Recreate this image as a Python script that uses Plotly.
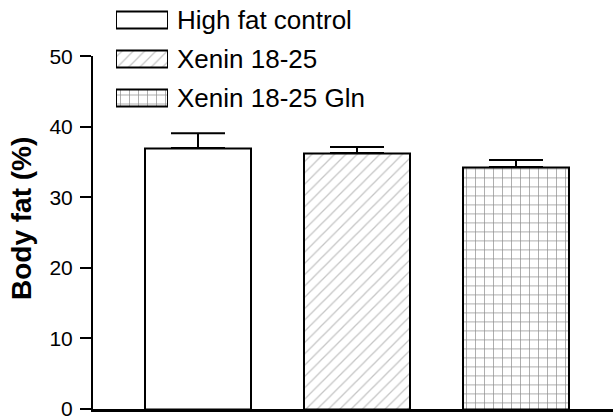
import plotly.graph_objects as go

groups = ["High fat control", "Xenin 18-25", "Xenin 18-25 Gln"]
body_fat = [37.0, 36.3, 34.3]
sem = [2.1, 0.85, 1.0]
y_ticks = [0, 10, 20, 30, 40, 50]
y_title = "Body fat (%)"

shapes = ["", "/", "+"]
fg = ["black", "#8c8c8c", "#1a1a1a"]
sizes = [8, 8, 9]
sol = [0.1, 0.16, 0.15]

FONT = "Liberation Sans, Arial, sans-serif"
W, H = 613, 419
T, B = 0, 10
PH = H - T - B

xi = list(range(len(groups)))

fig = go.Figure()
fig.add_trace(go.Bar(
    x=xi, y=body_fat, width=0.667,
    marker=dict(color="white", line=dict(color="black", width=2),
                pattern=dict(shape=shapes, fgcolor=fg, bgcolor="white",
                             size=sizes, solidity=sol, fillmode="overlay")),
    error_y=dict(type="data", symmetric=False, array=sem,
                 arrayminus=[0] * len(sem), color="black", thickness=2, width=27),
    showlegend=False, xaxis="x", yaxis="y",
))

# legend boxes drawn via a small secondary axis pair
fig.add_trace(go.Bar(
    y=xi, x=[1] * len(groups), base=0, orientation="h", width=0.46,
    marker=dict(color="white", line=dict(color="black", width=2),
                pattern=dict(shape=shapes, fgcolor=fg, bgcolor="white",
                             size=sizes, solidity=sol, fillmode="overlay")),
    showlegend=False, xaxis="x2", yaxis="y2", hoverinfo="skip",
))

annotations = []
for i, g in enumerate(groups):
    annotations.append(dict(x=175 / W, y=i, xref="paper", yref="y2", text=g,
                            showarrow=False, xanchor="left", yanchor="middle",
                            font=dict(family=FONT, size=26, color="black")))
annotations.append(dict(x=21 / W, y=(PH - 219) / PH, xref="paper", yref="paper",
                        text="<b>" + y_title + "</b>", textangle=-90, showarrow=False,
                        xanchor="center", yanchor="middle",
                        font=dict(family=FONT, size=28, color="black")))

fig.update_layout(
    width=W, height=H,
    margin=dict(l=0, r=0, t=T, b=B),
    paper_bgcolor="white", plot_bgcolor="rgba(0,0,0,0)",
    showlegend=False,
    bargap=0,
    xaxis=dict(domain=[93 / W, 1], range=[-0.6604, 2.610], showline=True,
               linecolor="black", linewidth=2.5, showticklabels=False, ticks="",
               showgrid=False, zeroline=False, fixedrange=True),
    yaxis=dict(domain=[0, (PH - 56.4) / PH], range=[0, 50], tickvals=y_ticks,
               ticks="outside", ticklen=11, tickwidth=2, tickcolor="black",
               showline=True, linecolor="black", linewidth=2, showgrid=False,
               zeroline=False, tickfont=dict(family=FONT, size=21, color="black"),
               ticklabelstandoff=3, automargin=False, ticklabeloverflow="allow"),
    xaxis2=dict(domain=[116 / W, 168 / W], range=[0, 1], visible=False,
                anchor="y2"),
    yaxis2=dict(domain=[(PH - 117.5) / PH, (PH - 0.5) / PH], range=[2.5, -0.5],
                visible=False, anchor="x2"),
    annotations=annotations,
)

fig.write_html(
    "out.html",
    config={"displayModeBar": False},
    post_script=(
        "document.body.style.margin='0';document.body.style.padding='0';"
        "var d=document.getElementById('{plot_id}');"
        "d.style.position='fixed';d.style.top='0px';d.style.left='0px';"
    ),
)
